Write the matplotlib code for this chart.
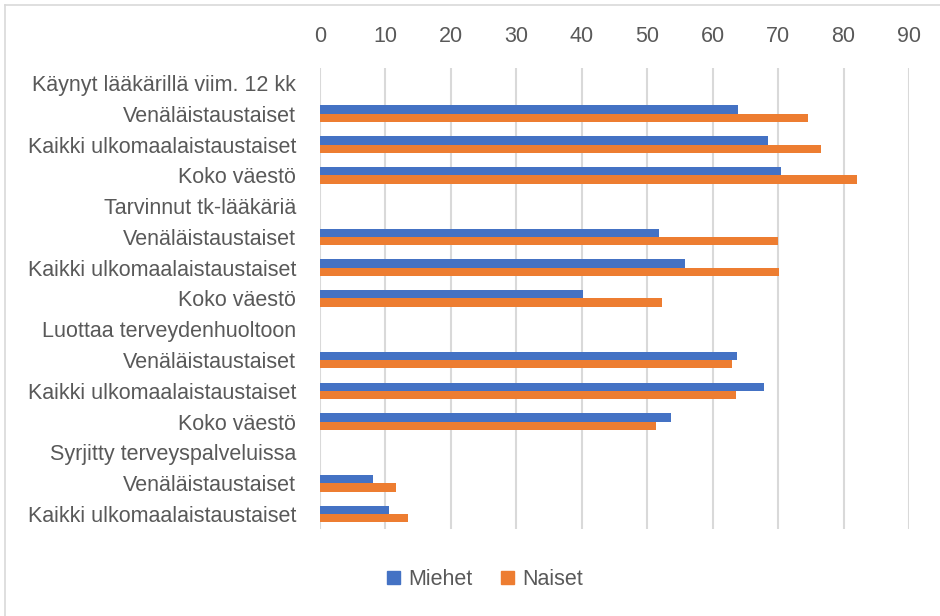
import numpy as np
import matplotlib.pyplot as plt
from matplotlib.lines import Line2D

plt.rcParams['font.family'] = ['Liberation Sans', 'DejaVu Sans']

categories = [
    'Käynyt lääkärillä viim. 12 kk',
    'Venäläistaustaiset',
    'Kaikki ulkomaalaistaustaiset',
    'Koko väestö',
    'Tarvinnut tk-lääkäriä',
    'Venäläistaustaiset',
    'Kaikki ulkomaalaistaustaiset',
    'Koko väestö',
    'Luottaa terveydenhuoltoon',
    'Venäläistaustaiset',
    'Kaikki ulkomaalaistaustaiset',
    'Koko väestö',
    'Syrjitty terveyspalveluissa',
    'Venäläistaustaiset',
    'Kaikki ulkomaalaistaustaiset',
]
miehet = [np.nan, 63.8, 68.5, 70.5, np.nan, 51.8, 55.8, 40.2,
          np.nan, 63.7, 67.9, 53.6, np.nan, 8.1, 10.5]
naiset = [np.nan, 74.6, 76.5, 82.1, np.nan, 70.0, 70.2, 52.3,
          np.nan, 62.9, 63.6, 51.4, np.nan, 11.6, 13.5]
xticks = [0, 10, 20, 30, 40, 50, 60, 70, 80, 90]

blue = '#4472C4'
orange = '#ED7D31'
text_col = '#595959'
grid_col = '#d9d9d9'
fs = 15.5

fig = plt.figure(figsize=(9.4, 6.16), dpi=100)
ax = fig.add_axes([0.3404, 0.1406, 0.9670 - 0.3404, 0.8903 - 0.1406])

y = np.arange(len(categories))
h = 0.27
ax.barh(y - h / 2, miehet, height=h, color=blue, label='Miehet')
ax.barh(y + h / 2, naiset, height=h, color=orange, label='Naiset')

ax.set_ylim(len(categories) - 0.5, -0.5)
ax.set_xlim(0, 90)
ax.set_xticks(xticks)
ax.xaxis.tick_top()
ax.tick_params(axis='x', length=0, pad=15, labelsize=fs, labelcolor=text_col)
ax.set_yticks(y)
ax.set_yticklabels(categories)
ax.tick_params(axis='y', length=0, pad=17, labelsize=fs, labelcolor=text_col)

ax.grid(axis='x', color=grid_col, linewidth=1.5)
ax.set_axisbelow(True)
for s in ['top', 'right', 'bottom', 'left']:
    ax.spines[s].set_visible(False)

# chart border (top and left)
fig.add_artist(Line2D([0.005, 1.0], [0.992, 0.992], color=grid_col, linewidth=1.2))
fig.add_artist(Line2D([0.005, 0.005], [0.0, 0.992], color=grid_col, linewidth=1.2))

handles = [plt.Rectangle((0, 0), 1, 1, color=blue), plt.Rectangle((0, 0), 1, 1, color=orange)]
leg = fig.legend(handles, ['Miehet', 'Naiset'], loc='center', bbox_to_anchor=(0.516, 0.059),
                 ncol=2, frameon=False, fontsize=fs, handlelength=0.6, handleheight=0.6,
                 handletextpad=0.4, columnspacing=1.3)
for t in leg.get_texts():
    t.set_color(text_col)

fig.savefig('out.png', dpi=100)
